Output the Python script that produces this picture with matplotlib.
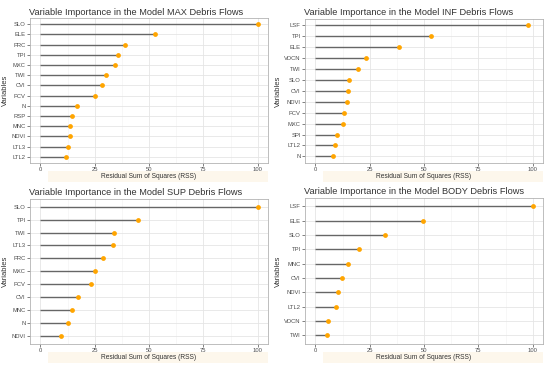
import matplotlib
matplotlib.use('Agg')
import matplotlib.pyplot as plt
from matplotlib.patches import Rectangle

plt.rcParams['font.family'] = ['Liberation Sans', 'DejaVu Sans']

# Данные: переменные и значения RSS для каждой модели
max_vars = ['SLO', 'ELE', 'PRC', 'TPI', 'MXC', 'TWI', 'CVI', 'PCV', 'N', 'RSP', 'MNC', 'NDVI', 'LTL3', 'LTL2']
max_vals = [100, 52.7, 38.8, 35.9, 34.5, 30.1, 28.4, 25.2, 16.7, 14.4, 13.4, 13.4, 12.5, 12.0]

inf_vars = ['LSF', 'TPI', 'ELE', 'VDCN', 'TWI', 'SLO', 'CVI', 'NDVI', 'PCV', 'MXC', 'SPI', 'LTL2', 'N']
inf_vals = [97.9, 53.3, 38.7, 23.1, 19.6, 15.3, 14.9, 14.6, 13.2, 12.8, 10.0, 9.1, 8.0]

sup_vars = ['SLO', 'TPI', 'TWI', 'LTL3', 'PRC', 'MXC', 'PCV', 'CVI', 'MNC', 'N', 'NDVI']
sup_vals = [100, 45.0, 34.0, 33.6, 28.7, 25.2, 23.4, 17.5, 14.6, 12.6, 9.6]

body_vars = ['LSF', 'ELE', 'SLO', 'TPI', 'MNC', 'CVI', 'NDVI', 'LTL2', 'VDCN', 'TWI']
body_vals = [100, 49.3, 32.2, 20.0, 14.9, 12.1, 10.6, 9.4, 5.8, 5.2]

panels = [
    ('MAX', max_vars, max_vals, [0.0545, 0.561, 0.433, 0.390]),
    ('INF', inf_vars, inf_vals, [0.5545, 0.561, 0.433, 0.388]),
    ('SUP', sup_vars, sup_vals, [0.0545, 0.073, 0.433, 0.391]),
    ('BODY', body_vars, body_vals, [0.5545, 0.073, 0.433, 0.394]),
]

fig = plt.figure(figsize=(5.5, 3.71), dpi=100)

for name, names, vals, rect in panels:
    ax = fig.add_axes(rect)
    n = len(names)
    ypos = list(range(n, 0, -1))
    ax.hlines(ypos, 0, vals, color='#666666', linewidth=1.0, zorder=3)
    ax.scatter(vals, ypos, color='#FFA500', s=12, zorder=4, linewidths=0)
    ax.set_xlim(-4.8, 104.8)
    ax.set_ylim(0.4, n + 0.6)
    ax.set_yticks(ypos)
    ax.set_yticklabels(names)
    ax.set_xticks([0, 25, 50, 75, 100])
    ax.set_xticks([12.5, 37.5, 62.5, 87.5], minor=True)
    ax.grid(which='major', color='#E5E5E5', linewidth=0.6)
    ax.grid(which='minor', axis='x', color='#F2F2F2', linewidth=0.4)
    ax.set_axisbelow(True)
    for s in ax.spines.values():
        s.set_color('#B3B3B3')
        s.set_linewidth(0.6)
    ax.tick_params(which='major', labelsize=4.2, colors='#4D4D4D', length=2, width=0.5, pad=1)
    ax.tick_params(which='minor', length=0)
    ax.set_ylabel('Variables', fontsize=5.5, color='#333333', labelpad=2)
    ax.set_title(f'Variable Importance in the Model {name} Debris Flows',
                 fontsize=6.7, color='#333333', loc='left', x=-0.005, pad=2.5)
    # подложка под подписью оси X
    ax.add_patch(Rectangle((0.075, -0.131), 0.925, 0.076, transform=ax.transAxes,
                           facecolor='#FDF7EC', edgecolor='none', clip_on=False))
    ax.text(0.5, -0.093, 'Residual Sum of Squares (RSS)', transform=ax.transAxes,
            ha='center', va='center', fontsize=4.8, color='#333333')

plt.savefig('out.png', dpi=100)
